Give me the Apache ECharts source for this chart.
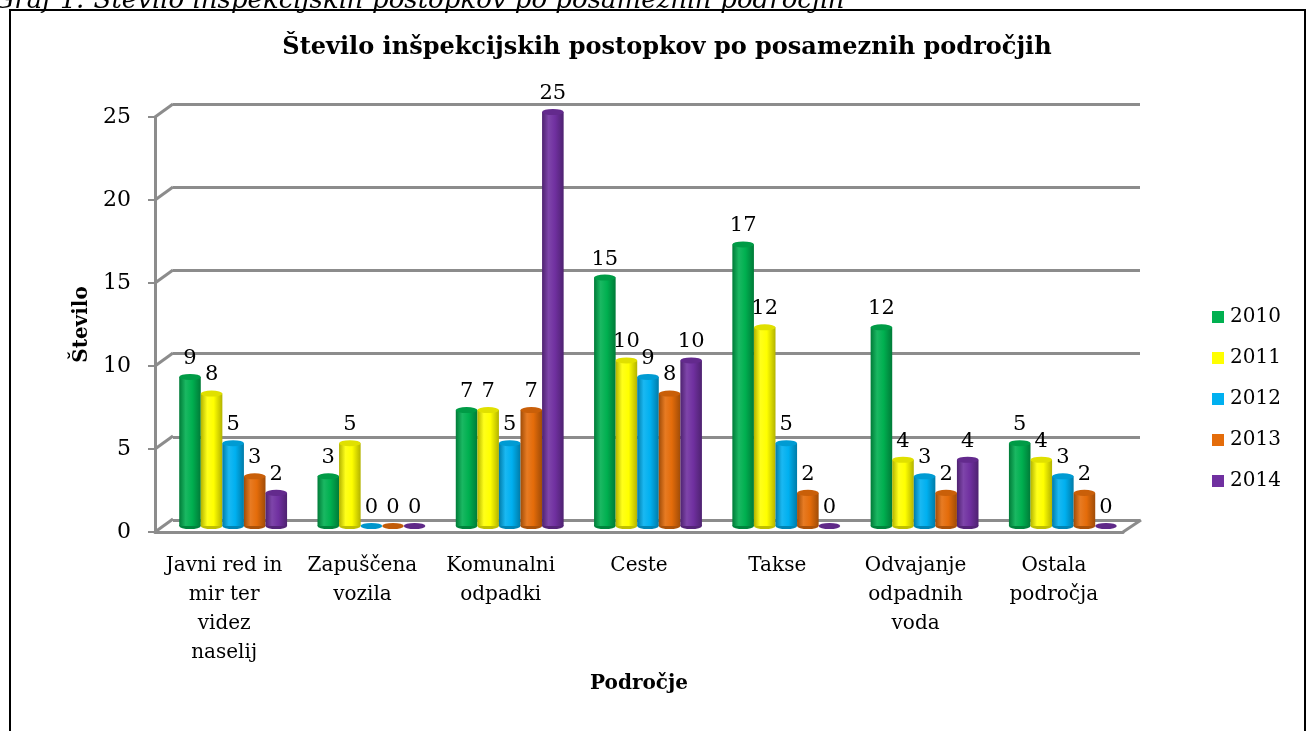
<!DOCTYPE html>
<html>
<head>
<meta charset="utf-8">
<title>Število inšpekcijskih postopkov po posameznih področjih</title>
<script src="https://cdn.jsdelivr.net/npm/echarts@6/dist/echarts.min.js"></script>
<style>
  html, body { margin: 0; padding: 0; background: #fff; }
  #chart { width: 1311px; height: 731px; }
</style>
</head>
<body>
<div id="chart"></div>
<script>
const categories = [
  'Javni red in\nmir ter\nvidez\nnaselij',
  'Zapuščena\nvozila',
  'Komunalni\nodpadki',
  'Ceste',
  'Takse',
  'Odvajanje\nodpadnih\nvoda',
  'Ostala\npodročja'
]
const years = ['2010', '2011', '2012', '2013', '2014']
const data2010 = [9, 3, 7, 15, 17, 12, 5]
const data2011 = [8, 5, 7, 10, 12, 4, 4]
const data2012 = [5, 0, 5, 9, 5, 3, 3]
const data2013 = [3, 0, 7, 8, 2, 2, 2]
const data2014 = [2, 0, 25, 10, 0, 4, 0]
const yTicks = [0, 5, 10, 15, 20, 25]

const seriesData = [data2010, data2011, data2012, data2013, data2014]
const colors = ['#00B050', '#FFFF00', '#00B0F0', '#E46C0A', '#7030A0']
const FONT = '"DejaVu Serif", serif'
const GRID_COLOR = '#8c8c8c'

// lighten (f>0) or darken (f<0) a hex colour
function shade(hex, f) {
  const n = parseInt(hex.slice(1), 16)
  const ch = [(n >> 16) & 255, (n >> 8) & 255, n & 255].map(c =>
    Math.round(f < 0 ? c * (1 + f) : c + (255 - c) * f))
  return 'rgb(' + ch.join(',') + ')'
}

function cylinder(idx) {
  const c = colors[idx]
  return function (params, api) {
    const cat = api.value(0)
    const v = api.value(1)
    const top = api.coord([cat, v])
    const base = api.coord([cat, 0])
    const w = api.size([1, 0])[0] * 0.156
    const cx = top[0] + (idx - 2) * w
    const children = []
    const disk = (y, fill) => ({
      type: 'circle',
      shape: { cx: 0, cy: 0, r: w / 2 },
      x: cx, y: y, scaleY: 0.28,
      style: { fill: fill }
    })
    if (v > 0) {
      children.push(disk(base[1], shade(c, -0.25)))
      children.push({
        type: 'rect',
        shape: { x: cx - w / 2, y: top[1], width: w, height: base[1] - top[1] },
        style: {
          fill: new echarts.graphic.LinearGradient(0, 0, 1, 0, [
            { offset: 0, color: shade(c, -0.3) },
            { offset: 0.3, color: shade(c, 0.1) },
            { offset: 0.6, color: c },
            { offset: 1, color: shade(c, -0.3) }
          ])
        }
      })
      children.push(disk(top[1], shade(c, -0.12)))
    } else {
      children.push(disk(base[1], shade(c, -0.15)))
    }
    children.push({
      type: 'text',
      x: cx, y: top[1] - 8,
      style: {
        text: String(v),
        font: '21px ' + FONT,
        fill: '#000',
        align: 'center',
        verticalAlign: 'bottom'
      }
    })
    return { type: 'group', children: children }
  }
}

const chart = echarts.init(document.getElementById('chart'))

const series = years.map((y, i) => ({
  name: y,
  type: 'custom',
  xAxisIndex: 2,
  yAxisIndex: 2,
  itemStyle: { color: colors[i] },
  renderItem: cylinder(i),
  encode: { x: 0, y: 1 },
  data: seriesData[i].map((v, k) => [k, v]),
  z: 5
}))

// 3D-look connectors between the front axis and the back wall
series.push({
  type: 'custom',
  xAxisIndex: 1,
  yAxisIndex: 1,
  silent: true,
  z: 1,
  renderItem(params, api) {
    const cs = params.coordSys
    const p = api.coord([0, api.value(1)])
    const st = { stroke: GRID_COLOR, lineWidth: 3 }
    const kids = [{ type: 'line', shape: { x1: cs.x, y1: p[1], x2: cs.x + 18, y2: p[1] - 13 }, style: st }]
    if (api.value(1) === 0) {
      kids.push({ type: 'line', shape: { x1: cs.x + cs.width, y1: p[1], x2: cs.x + cs.width + 18, y2: p[1] - 12 }, style: st })
    }
    return { type: 'group', children: kids }
  },
  data: yTicks.map(v => [0, v])
})

chart.setOption({
  animation: false,
  title: {
    text: 'Število inšpekcijskih postopkov po posameznih področjih',
    left: 662,
    textAlign: 'center',
    top: 31,
    textStyle: { fontFamily: FONT, fontSize: 24, fontWeight: 'bold', color: '#000' }
  },
  graphic: [
    {
      type: 'rect',
      shape: { x: 10, y: 10, width: 1295, height: 800 },
      style: { fill: 'none', stroke: '#000', lineWidth: 2 },
      z: 0
    },
    {
      type: 'text',
      x: 845, y: 14,
      style: {
        text: 'Graf 1: Število inšpekcijskih postopkov po posameznih področjih',
        font: 'italic 26px ' + FONT,
        fill: '#000',
        align: 'right',
        verticalAlign: 'bottom'
      }
    }
  ],
  legend: {
    data: years,
    orient: 'vertical',
    left: 1207,
    top: 302,
    icon: 'rect',
    itemWidth: 12,
    itemHeight: 12,
    itemGap: 21,
    textStyle: { fontFamily: FONT, fontSize: 20, color: '#000', padding: [0, 0, 0, 1] }
  },
  grid: [
    { left: 173, top: 104, width: 967, height: 416 },
    { left: 155, top: 117, width: 968, height: 415 },
    { left: 164, top: 112, width: 968, height: 414 }
  ],
  xAxis: [
    { gridIndex: 0, type: 'category', data: categories, show: false },
    {
      gridIndex: 1,
      type: 'category',
      data: categories,
      axisLine: { lineStyle: { color: GRID_COLOR, width: 3 } },
      axisTick: { show: false },
      axisLabel: { interval: 0, margin: 19, fontFamily: FONT, fontSize: 20, lineHeight: 29, color: '#000' },
      name: 'Področje',
      nameLocation: 'middle',
      nameGap: 142,
      nameTextStyle: { fontFamily: FONT, fontSize: 20, fontWeight: 'bold', color: '#000' }
    },
    { gridIndex: 2, type: 'category', data: categories, show: false }
  ],
  yAxis: [
    {
      gridIndex: 0, type: 'value', min: 0, max: 25, interval: 5,
      axisLabel: { show: false }, axisLine: { show: false }, axisTick: { show: false },
      splitLine: { lineStyle: { color: GRID_COLOR, width: 3 } }
    },
    {
      gridIndex: 1, type: 'value', min: 0, max: 25, interval: 5,
      axisLine: { show: true, lineStyle: { color: GRID_COLOR, width: 3 } },
      axisTick: { show: true, length: 7, lineStyle: { color: GRID_COLOR, width: 2 } },
      axisLabel: { margin: 24, fontFamily: FONT, fontSize: 22, color: '#000' },
      splitLine: { show: false },
      name: 'Število',
      nameLocation: 'middle',
      nameGap: 60,
      nameTextStyle: { fontFamily: FONT, fontSize: 20, fontWeight: 'bold', color: '#000' }
    },
    { gridIndex: 2, type: 'value', min: 0, max: 25, show: false }
  ],
  series: series
})
</script>
</body>
</html>
